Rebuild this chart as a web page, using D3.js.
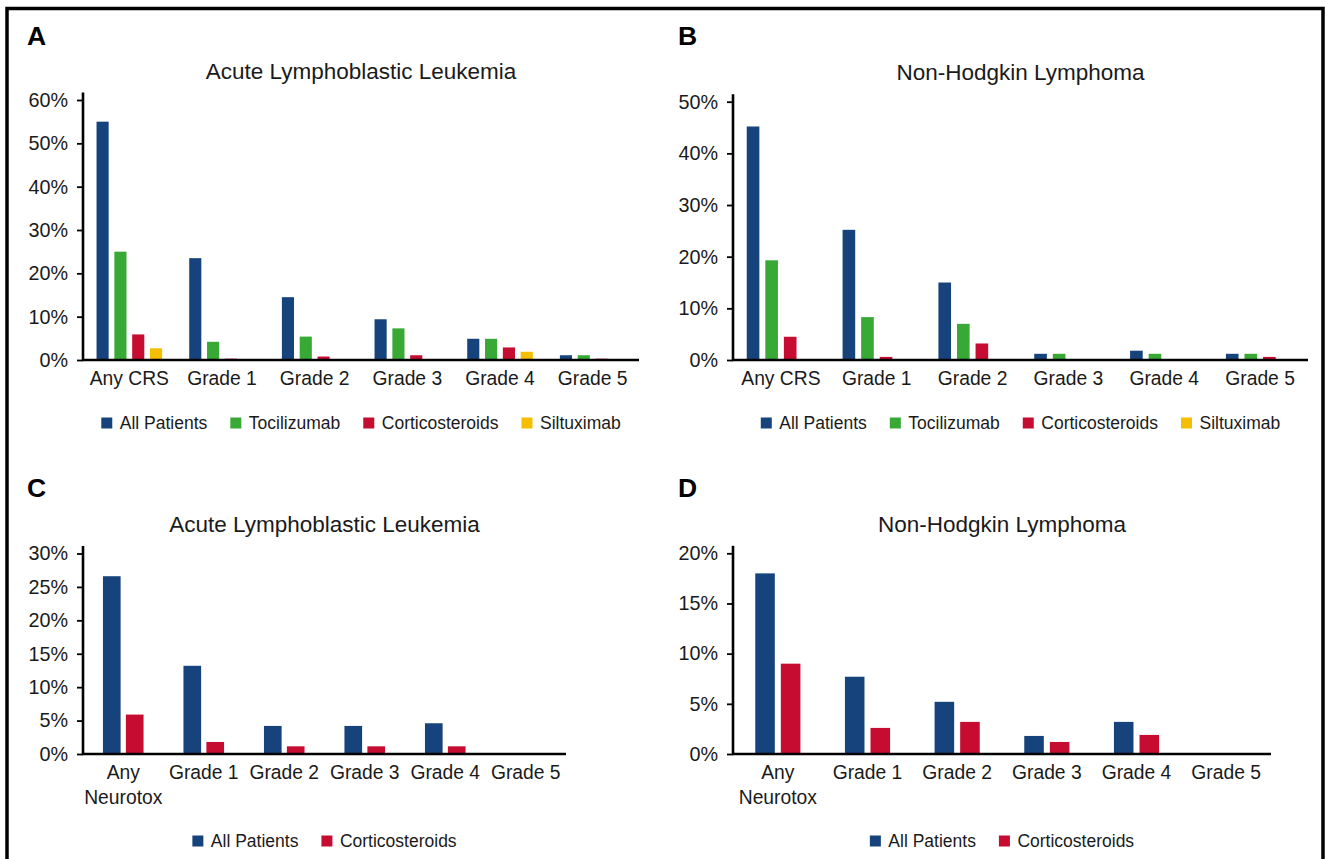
<!DOCTYPE html>
<html>
<head>
<meta charset="utf-8">
<script src="https://cdn.jsdelivr.net/npm/d3@7"></script>
<style>
  html, body { margin: 0; padding: 0; background: #fff; }
  svg { display: block; }
  text { font-family: "Liberation Sans", Arial, Helvetica, sans-serif; fill: #1a1a1a; }
</style>
</head>
<body>
<script>
// ---- Data -------------------------------------------------------------
const crsCategories = ["Any CRS", "Grade 1", "Grade 2", "Grade 3", "Grade 4", "Grade 5"];
const neuroCategories = ["Any\nNeurotox", "Grade 1", "Grade 2", "Grade 3", "Grade 4", "Grade 5"];

const crsSeries = ["All Patients", "Tocilizumab", "Corticosteroids", "Siltuximab"];
const neuroSeries = ["All Patients", "Corticosteroids"];

const titleALL = "Acute Lymphoblastic Leukemia";
const titleNHL = "Non-Hodgkin Lymphoma";

// Panel A: CRS in ALL (% of patients)
const allPatientsCrsALL     = [55.0, 23.5, 14.5, 9.4, 4.9, 1.1];
const tocilizumabCrsALL     = [25.0, 4.2, 5.4, 7.3, 4.9, 1.1];
const corticosteroidsCrsALL = [5.9, 0.3, 0.8, 1.1, 2.9, 0.3];
const siltuximabCrsALL      = [2.7, 0.0, 0.2, 0.2, 1.9, 0.2];

// Panel B: CRS in NHL
const allPatientsCrsNHL     = [45.2, 25.2, 15.0, 1.2, 1.8, 1.2];
const tocilizumabCrsNHL     = [19.3, 8.3, 7.0, 1.2, 1.2, 1.2];
const corticosteroidsCrsNHL = [4.5, 0.6, 3.2, 0.0, 0.0, 0.6];
const siltuximabCrsNHL      = [0, 0, 0, 0, 0, 0];

// Panel C: neurotoxicity in ALL
const allPatientsNeuroALL     = [26.6, 13.2, 4.2, 4.2, 4.6, 0];
const corticosteroidsNeuroALL = [5.9, 1.8, 1.15, 1.15, 1.15, 0];

// Panel D: neurotoxicity in NHL
const allPatientsNeuroNHL     = [18.0, 7.7, 5.2, 1.8, 3.2, 0];
const corticosteroidsNeuroNHL = [9.0, 2.6, 3.2, 1.2, 1.9, 0];

// Y-axis tick labels (percent values) for each panel
const ticksA = [0, 10, 20, 30, 40, 50, 60];
const ticksB = [0, 10, 20, 30, 40, 50];
const ticksC = [0, 5, 10, 15, 20, 25, 30];
const ticksD = [0, 5, 10, 15, 20];

// ---- Styling ----------------------------------------------------------
const seriesColor = {
  "All Patients": "#17437c",
  "Tocilizumab": "#38a935",
  "Corticosteroids": "#c60c30",
  "Siltuximab": "#f5be00"
};

const W = 1325, H = 859;
const svg = d3.select("body").append("svg").attr("width", W).attr("height", H);

// outer frame
svg.append("rect")
  .attr("x", 7).attr("y", 8.5)
  .attr("width", 1316).attr("height", 900)
  .attr("fill", "none").attr("stroke", "#000").attr("stroke-width", 3.5);

const panels = [
  { letter: "A", title: titleALL, categories: crsCategories, series: crsSeries,
    values: [allPatientsCrsALL, tocilizumabCrsALL, corticosteroidsCrsALL, siltuximabCrsALL],
    ticks: ticksA, left: 83, right: 639, top: 100, bottom: 360,
    letterPos: [27, 45], titleY: 79, legendY: 423, innerPad: 0.32, outerPad: 0.76 },
  { letter: "B", title: titleNHL, categories: crsCategories, series: crsSeries,
    values: [allPatientsCrsNHL, tocilizumabCrsNHL, corticosteroidsCrsNHL, siltuximabCrsNHL],
    ticks: ticksB, left: 733, right: 1308, top: 101.7, bottom: 360,
    letterPos: [678, 45], titleY: 80, legendY: 423, innerPad: 0.32, outerPad: 0.74 },
  { letter: "C", title: titleALL, categories: neuroCategories, series: neuroSeries,
    values: [allPatientsNeuroALL, corticosteroidsNeuroALL],
    ticks: ticksC, left: 83, right: 566, top: 553.5, bottom: 754,
    letterPos: [27, 496.5], titleY: 531.5, legendY: 841, innerPad: 0.23, outerPad: 0.87 },
  { letter: "D", title: titleNHL, categories: neuroCategories, series: neuroSeries,
    values: [allPatientsNeuroNHL, corticosteroidsNeuroNHL],
    ticks: ticksD, left: 733, right: 1271, top: 553.3, bottom: 754,
    letterPos: [678, 496.5], titleY: 531.5, legendY: 841, innerPad: 0.235, outerPad: 0.87 }
];

panels.forEach(drawPanel);

function drawPanel(p) {
  const g = svg.append("g");
  const yMax = d3.max(p.ticks);

  const x0 = d3.scaleBand().domain(p.categories).range([p.left, p.right]).padding(0);
  const x1 = d3.scaleBand().domain(p.series).range([0, x0.bandwidth()])
    .paddingInner(p.innerPad).paddingOuter(p.outerPad);
  const y = d3.scaleLinear().domain([0, yMax]).range([p.bottom, p.top]);

  // panel letter
  g.append("text")
    .attr("x", p.letterPos[0]).attr("y", p.letterPos[1])
    .attr("font-size", 26.5).attr("font-weight", "bold")
    .style("fill", "#000")
    .text(p.letter);

  // title centred over the plot area
  g.append("text")
    .attr("x", (p.left + p.right) / 2).attr("y", p.titleY)
    .attr("text-anchor", "middle").attr("font-size", 22.5)
    .text(p.title);

  // bars
  const rows = [];
  p.categories.forEach((c, i) => {
    p.series.forEach((s, j) => rows.push({ cat: c, ser: s, v: p.values[j][i] }));
  });
  g.append("g").selectAll("rect").data(rows).join("rect")
    .attr("x", d => x0(d.cat) + x1(d.ser))
    .attr("y", d => y(d.v))
    .attr("width", x1.bandwidth())
    .attr("height", d => y(0) - y(d.v))
    .attr("fill", d => seriesColor[d.ser]);

  // y axis
  const yAxis = g.append("g")
    .attr("transform", `translate(${p.left},0)`)
    .call(d3.axisLeft(y).tickValues(p.ticks).tickSize(6).tickSizeOuter(0)
      .tickPadding(9).tickFormat(d => d + "%"));
  yAxis.select(".domain").remove();
  yAxis.selectAll(".tick line").attr("stroke", "#000").attr("stroke-width", 1.8);
  yAxis.selectAll(".tick text")
    .attr("font-size", 19.8)
    .attr("font-family", "'Liberation Sans', Arial, sans-serif")
    .style("fill", "#1a1a1a");
  yAxis.append("line")
    .attr("x1", 0).attr("x2", 0)
    .attr("y1", p.top - 7.5).attr("y2", p.bottom + 1)
    .attr("stroke", "#000").attr("stroke-width", 2.6);

  // x axis (category labels, no ticks)
  const xAxis = g.append("g")
    .attr("transform", `translate(0,${p.bottom})`)
    .call(d3.axisBottom(x0).tickSize(0).tickPadding(0).tickFormat(""));
  xAxis.select(".domain").remove();
  xAxis.selectAll(".tick").each(function (d) {
    const lines = d.split("\n");
    const t = d3.select(this).append("text")
      .attr("text-anchor", "middle")
      .attr("font-size", 19.3)
      .attr("font-family", "'Liberation Sans', Arial, sans-serif")
      .style("fill", "#1a1a1a");
    lines.forEach((ln, k) => {
      t.append("tspan").attr("x", 0).attr("y", 25 + k * 24.5).text(ln);
    });
  });
  g.append("line")
    .attr("x1", p.left - 1).attr("x2", p.right)
    .attr("y1", p.bottom).attr("y2", p.bottom)
    .attr("stroke", "#000").attr("stroke-width", 2.6);

  // legend centred under the plot
  const lg = g.append("g");
  const items = lg.selectAll("g").data(p.series).join("g");
  items.append("rect")
    .attr("width", 11).attr("height", 11).attr("y", -5.5)
    .attr("fill", d => seriesColor[d]);
  items.append("text")
    .attr("x", 18.5).attr("y", 6.3)
    .attr("font-size", 17.5)
    .text(d => d);
  let cursor = 0;
  items.each(function () {
    const w = this.querySelector("text").getComputedTextLength();
    d3.select(this).attr("transform", `translate(${cursor},0)`);
    cursor += 18.5 + w + 23;
  });
  const total = cursor - 23;
  lg.attr("transform", `translate(${(p.left + p.right) / 2 - total / 2},${p.legendY})`);
}
</script>
</body>
</html>
